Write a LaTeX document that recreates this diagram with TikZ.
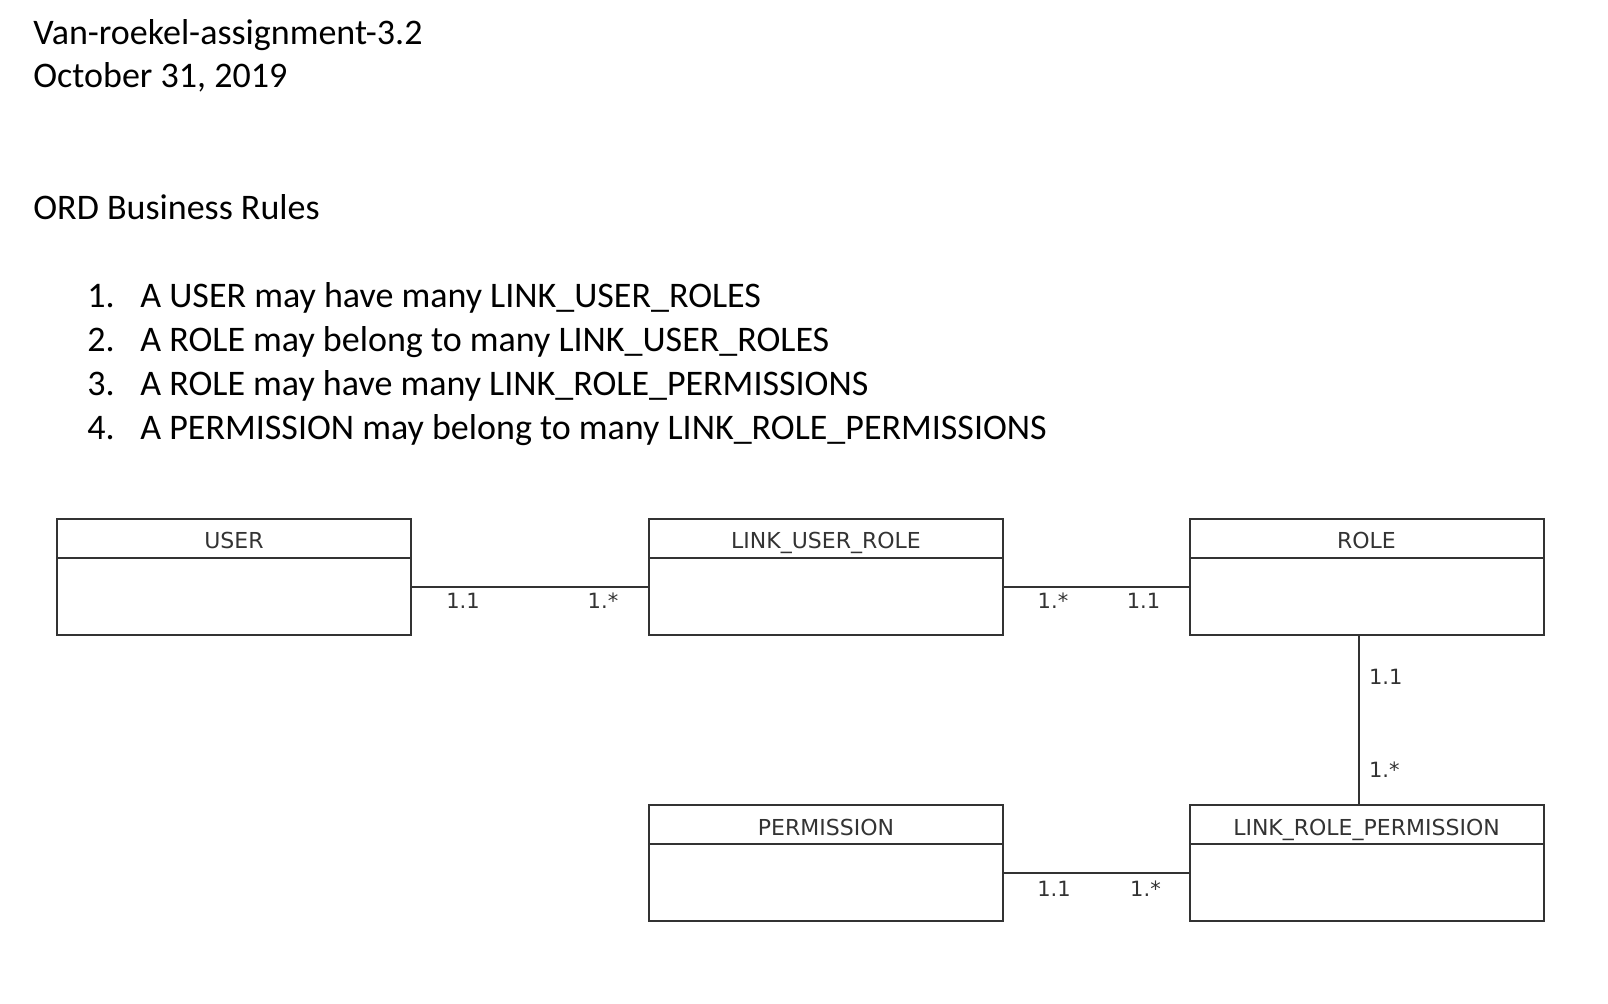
\documentclass[tikz,border=0pt]{standalone}
\usepackage{fontspec}
\setmainfont{Carlito}
\newfontfamily\erfont{DejaVu Sans}
\usetikzlibrary{positioning}

\tikzset{
  head/.style={draw=black!80, line width=1pt, minimum width=177pt, minimum height=19.5pt, inner sep=0pt, outer sep=0pt, text height=10.5pt, text depth=0pt, font=\erfont\fontsize{11}{13}\selectfont, text=black!80},
  body/.style={draw=black!80, line width=1pt, minimum width=177pt, minimum height=38.5pt, inner sep=0pt, outer sep=0pt},
  rel/.style={draw=black!80, line width=1pt},
  card/.style={inner sep=0pt, font=\erfont\fontsize{10.5}{12}\selectfont, text=black!80},
  txt/.style={anchor=base west, inner sep=0pt, font=\fontsize{18}{21}\selectfont}
}

\begin{document}
\begin{tikzpicture}[x=0.5pt, y=-0.5pt]
\useasboundingbox (0,0) rectangle (1608,1004);

% header text
\node[txt] (title) at (33,45) {Van-roekel-assignment-3.2};
\node[txt] (date) at (33,88) {October 31, 2019};
\node[txt] (rules) at (33,220) {ORD Business Rules};
\foreach \t [count=\i] in {A USER may have many LINK\_USER\_ROLES,
  A ROLE may belong to many LINK\_USER\_ROLES,
  A ROLE may have many LINK\_ROLE\_PERMISSIONS,
  A PERMISSION may belong to many LINK\_ROLE\_PERMISSIONS}{
  \node[txt] (num\i) at (87,264+44*\i) {\i.};
  \node[txt] (rule\i) at (140,264+44*\i) {\t};
}

% entities
\node[head] (user) at (234,538.5) {USER};
\node[body, below=0pt of user] (userb) {};
\node[head] (lur) at (826,538.5) {LINK\_USER\_ROLE};
\node[body, below=0pt of lur] (lurb) {};
\node[head] (role) at (1366.5,538.5) {ROLE};
\node[body, below=0pt of role] (roleb) {};
\node[head] (perm) at (826,825) {PERMISSION};
\node[body, below=0pt of perm] (permb) {};
\node[head] (lrp) at (1366.5,825) {LINK\_ROLE\_PERMISSION};
\node[body, below=0pt of lrp] (lrpb) {};

% relations
\draw[rel] ([yshift=4.75pt]userb.east) -- ([yshift=4.75pt]lurb.west)
  node[card, at start, xshift=26pt, yshift=-7pt] {1.1}
  node[card, at end, xshift=-23pt, yshift=-7pt] {1.*};
\draw[rel] ([yshift=4.75pt]lurb.east) -- ([yshift=4.75pt]roleb.west)
  node[card, at start, xshift=25pt, yshift=-7pt] {1.*}
  node[card, at end, xshift=-23pt, yshift=-7pt] {1.1};
\draw[rel] ([xshift=-3.75pt]roleb.south) -- ([xshift=-3.75pt]lrp.north)
  node[card, at start, anchor=west, xshift=4.5pt, yshift=-21pt] {1.1}
  node[card, at end, anchor=west, xshift=4.5pt, yshift=18pt] {1.*};
\draw[rel] ([yshift=4.75pt]permb.east) -- ([yshift=4.75pt]lrpb.west)
  node[card, at start, xshift=25.5pt, yshift=-7.75pt] {1.1}
  node[card, at end, xshift=-22pt, yshift=-7.75pt] {1.*};
\end{tikzpicture}
\end{document}
